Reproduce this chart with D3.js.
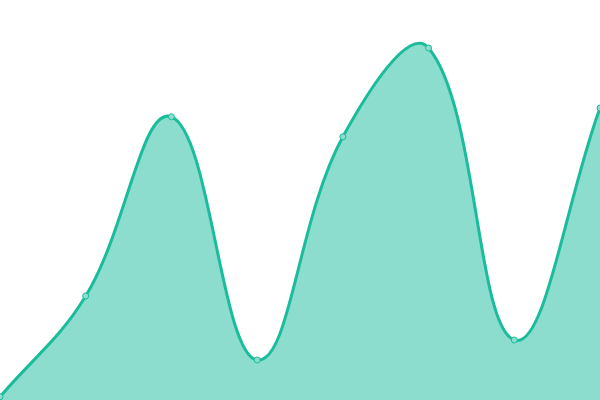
<!DOCTYPE html>
<html>
<head>
<meta charset="utf-8">
<script src="https://cdn.jsdelivr.net/npm/d3@7"></script>
<style>
  html, body { margin: 0; padding: 0; background: #fff; }
  svg { display: block; }
</style>
</head>
<body>
<svg id="chart"></svg>
<script>
const labels = ['1', '2', '3', '4', '5', '6', '7', '8'];
const values = [0.8, 26, 70.8, 10, 65.8, 88, 15, 73];

const width = 600;
const height = 400;

const svg = d3.select('#chart')
    .attr('width', width)
    .attr('height', height);

const xScale = d3.scalePoint()
    .domain(labels)
    .range([0, width]);

const yScale = d3.scaleLinear()
    .domain([0, 100])
    .range([height, 0]);

const data = labels.map((l, i) => ({ label: l, value: values[i] }));

// spline with distance-weighted control points (tension 0.4),
// control points kept inside the drawing area
function splineCurve(context) {
    const t = 0.4;
    const clampX = v => Math.max(0, Math.min(width, v));
    const clampY = v => Math.max(0, Math.min(height, v));
    let line = NaN;
    let pts = [];
    return {
        areaStart() { line = 0; },
        areaEnd() { line = NaN; },
        lineStart() { pts = []; },
        point(x, y) { pts.push([+x, +y]); },
        lineEnd() {
            const n = pts.length;
            if (n) {
                const cps = pts.map((cur, i) => {
                    const prev = pts[i - 1] || cur;
                    const next = pts[i + 1] || cur;
                    const d01 = Math.hypot(cur[0] - prev[0], cur[1] - prev[1]);
                    const d12 = Math.hypot(next[0] - cur[0], next[1] - cur[1]);
                    let s01 = d01 / (d01 + d12);
                    let s12 = d12 / (d01 + d12);
                    if (isNaN(s01)) s01 = 0;
                    if (isNaN(s12)) s12 = 0;
                    const fa = t * s01, fb = t * s12;
                    return {
                        prev: [clampX(cur[0] - fa * (next[0] - prev[0])), clampY(cur[1] - fa * (next[1] - prev[1]))],
                        next: [clampX(cur[0] + fb * (next[0] - prev[0])), clampY(cur[1] + fb * (next[1] - prev[1]))]
                    };
                });
                if (line) context.lineTo(pts[0][0], pts[0][1]);
                else context.moveTo(pts[0][0], pts[0][1]);
                for (let i = 1; i < n; i++) {
                    const a = cps[i - 1].next, b = cps[i].prev;
                    context.bezierCurveTo(a[0], a[1], b[0], b[1], pts[i][0], pts[i][1]);
                }
            }
            if (line || (line !== 0 && n === 1)) context.closePath();
            line = 1 - line;
        }
    };
}

// filled area
const area = d3.area()
    .x(d => xScale(d.label))
    .y0(height)
    .y1(d => yScale(d.value))
    .curve(splineCurve);

svg.append('path')
    .datum(data)
    .attr('d', area)
    .attr('fill', 'rgba(26, 188, 156, 0.5)');

// line on top
const line = d3.line()
    .x(d => xScale(d.label))
    .y(d => yScale(d.value))
    .curve(splineCurve);

svg.append('path')
    .datum(data)
    .attr('d', line)
    .attr('fill', 'none')
    .attr('stroke', '#1abc9c')
    .attr('stroke-width', 3);

// point markers
svg.selectAll('circle')
    .data(data)
    .enter()
    .append('circle')
    .attr('cx', d => xScale(d.label))
    .attr('cy', d => yScale(d.value))
    .attr('r', 3)
    .attr('fill', '#8cddcd')
    .attr('stroke', '#1abc9c')
    .attr('stroke-width', 1);
</script>
</body>
</html>
